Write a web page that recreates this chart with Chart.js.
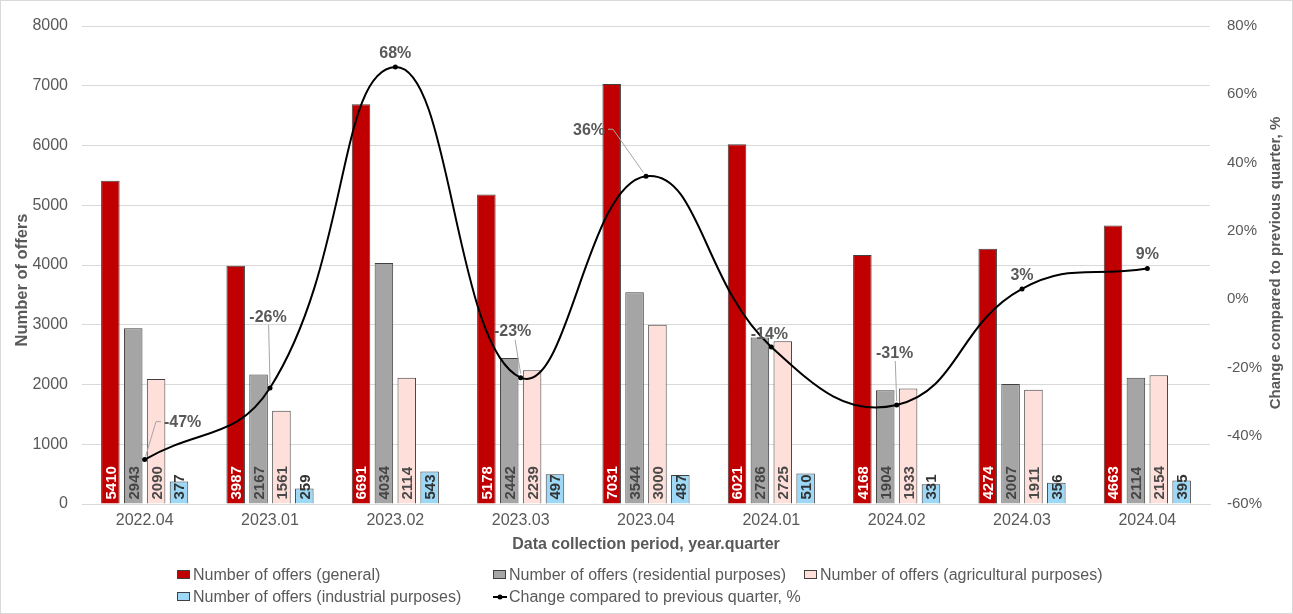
<!DOCTYPE html>
<html>
<head>
<meta charset="utf-8">
<script src="https://cdn.jsdelivr.net/npm/chart.js@4.4.1/dist/chart.umd.min.js"></script>
<style>
  html, body { margin: 0; padding: 0; background: #ffffff; }
  #wrap { width: 1293px; height: 614px; position: relative; }
  canvas { display: block; }
</style>
</head>
<body>
<div id="wrap"><canvas id="offersChart" width="1293" height="614"></canvas></div>
<script>
// Quarterly offer counts by purpose, plus quarter-on-quarter change of the total
const quarters = ['2022.04', '2023.01', '2023.02', '2023.03', '2023.04', '2024.01', '2024.02', '2024.03', '2024.04'];
const offersGeneral      = [5410, 3987, 6691, 5178, 7031, 6021, 4168, 4274, 4663];
const offersResidential  = [2943, 2167, 4034, 2442, 3544, 2786, 1904, 2007, 2114];
const offersAgricultural = [2090, 1561, 2114, 2239, 3000, 2725, 1933, 1911, 2154];
const offersIndustrial   = [377, 259, 543, 497, 487, 510, 331, 356, 395];
const changePct          = [-47, -26, 68, -23, 36, -14, -31, 3, 9];

const seriesNames = [
  'Number of offers (general)',
  'Number of offers (residential purposes)',
  'Number of offers (agricultural purposes)',
  'Number of offers (industrial purposes)',
  'Change compared to previous quarter, %'
];

const FONT = '"Liberation Sans", Arial, Helvetica, sans-serif';
const TEXT_GREY = '#595959';
const GRID_GREY = '#d9d9d9';
const BAR_EDGE = '#404040';

const barColors  = ['#C00000', '#A5A5A5', '#FFDFDA', '#9DD9F7'];
const barLabelColors = ['#ffffff', '#454545', '#4a4a4a', '#333333'];

// Placement of the percentage labels relative to their points (pixels) and whether a leader line is drawn
const pctLabelPlacement = [
  { dx: 38, dy: -38, leader: true },
  { dx: -2, dy: -72, leader: true },
  { dx: 0, dy: -15, leader: false },
  { dx: -8, dy: -47, leader: true },
  { dx: -57, dy: -47, leader: true },
  { dx: -2, dy: -14, leader: false },
  { dx: -2, dy: -53, leader: true },
  { dx: 0, dy: -15, leader: false },
  { dx: 0, dy: -15, leader: false }
];

function barDataset(label, data, idx) {
  return {
    type: 'bar',
    label: label,
    data: data,
    backgroundColor: barColors[idx],
    borderColor: BAR_EDGE,
    borderWidth: 1,
    yAxisID: 'y',
    order: 1,
    categoryPercentage: 0.73,
    barPercentage: 0.81
  };
}

// Rotated value labels at the foot of each bar, percentage labels on the line
const labelPlugin = {
  id: 'valueLabels',
  afterDatasetsDraw(chart) {
    const ctx = chart.ctx;
    ctx.save();
    // bar values
    ctx.font = 'bold 15px ' + FONT;
    ctx.textAlign = 'left';
    ctx.textBaseline = 'alphabetic';
    for (let d = 0; d < 4; d++) {
      const meta = chart.getDatasetMeta(d);
      const values = chart.data.datasets[d].data;
      ctx.fillStyle = barLabelColors[d];
      meta.data.forEach((el, i) => {
        ctx.save();
        ctx.translate(el.x, el.base - 4);
        ctx.rotate(-Math.PI / 2);
        ctx.fillText(String(values[i]), 0, 5.4);
        ctx.restore();
      });
    }
    // percentage labels with leader lines
    const lineMeta = chart.getDatasetMeta(4);
    ctx.font = 'bold 16px ' + FONT;
    lineMeta.data.forEach((pt, i) => {
      const p = pctLabelPlacement[i];
      const text = changePct[i] + '%';
      const w = ctx.measureText(text).width;
      const cx = pt.x + p.dx;
      const cy = pt.y + p.dy;
      if (p.leader) {
        ctx.strokeStyle = '#a6a6a6';
        ctx.lineWidth = 1;
        ctx.beginPath();
        if (Math.abs(p.dx) > w / 2) {
          const side = p.dx > 0 ? -1 : 1;
          const ex = cx + side * (w / 2 + 3);
          const bx = ex + side * 5;
          ctx.moveTo(pt.x + (bx - pt.x) * 0.08, pt.y + (cy - pt.y) * 0.08);
          ctx.lineTo(bx, cy);
          ctx.lineTo(ex, cy);
        } else {
          ctx.moveTo(pt.x, pt.y - 4);
          ctx.lineTo(cx + (pt.x - cx) * 0.3, cy + 9);
        }
        ctx.stroke();
      }
      ctx.fillStyle = TEXT_GREY;
      ctx.textAlign = 'center';
      ctx.fillText(text, cx, cy + 5.7);
    });
    ctx.restore();
  }
};

// Axis titles for the vertical axes, legend grid and outer frame
const decorPlugin = {
  id: 'decor',
  beforeDraw(chart) {
    const ctx = chart.ctx;
    ctx.save();
    ctx.fillStyle = '#ffffff';
    ctx.fillRect(0, 0, chart.width, chart.height);
    ctx.restore();
  },
  afterDraw(chart) {
    const ctx = chart.ctx;
    ctx.save();
    ctx.fillStyle = TEXT_GREY;
    ctx.textAlign = 'center';
    ctx.textBaseline = 'middle';

    ctx.font = 'bold 16.5px ' + FONT;
    ctx.save();
    ctx.translate(22, 280);
    ctx.rotate(-Math.PI / 2);
    ctx.fillText('Number of offers', 0, 0);
    ctx.restore();

    ctx.font = 'bold 15px ' + FONT;
    ctx.save();
    ctx.translate(1276, 263);
    ctx.rotate(-Math.PI / 2);
    ctx.fillText(seriesNames[4], 0, 0);
    ctx.restore();

    // legend
    const cols = [177, 493, 804];
    const rows = [575, 597];
    ctx.font = '16px ' + FONT;
    ctx.textAlign = 'left';
    for (let k = 0; k < 5; k++) {
      const x = cols[k % 3];
      const y = rows[Math.floor(k / 3)];
      if (k < 4) {
        ctx.fillStyle = barColors[k];
        ctx.fillRect(x + 0.5, y - 4.5, 12, 8);
        ctx.strokeStyle = BAR_EDGE;
        ctx.lineWidth = 1;
        ctx.strokeRect(x + 0.5, y - 4.5, 12, 8);
      } else {
        ctx.strokeStyle = '#000000';
        ctx.lineWidth = 2;
        ctx.beginPath();
        ctx.moveTo(x, y);
        ctx.lineTo(x + 14, y);
        ctx.stroke();
        ctx.fillStyle = '#000000';
        ctx.beginPath();
        ctx.arc(x + 7, y, 2.5, 0, Math.PI * 2);
        ctx.fill();
      }
      ctx.fillStyle = TEXT_GREY;
      ctx.fillText(seriesNames[k], x + 16, y + 1);
    }

    // outer frame
    ctx.strokeStyle = GRID_GREY;
    ctx.lineWidth = 1;
    ctx.strokeRect(0.5, 0.5, chart.width - 1, chart.height - 1);
    ctx.restore();
  }
};

new Chart(document.getElementById('offersChart'), {
  data: {
    labels: quarters,
    datasets: [
      barDataset(seriesNames[0], offersGeneral, 0),
      barDataset(seriesNames[1], offersResidential, 1),
      barDataset(seriesNames[2], offersAgricultural, 2),
      barDataset(seriesNames[3], offersIndustrial, 3),
      {
        type: 'line',
        label: seriesNames[4],
        data: changePct,
        yAxisID: 'y2',
        order: 0,
        borderColor: '#000000',
        backgroundColor: '#000000',
        borderWidth: 2,
        tension: 0.45,
        pointRadius: 2.5,
        pointHoverRadius: 2.5,
        pointBackgroundColor: '#000000',
        pointBorderWidth: 0,
        fill: false
      }
    ]
  },
  options: {
    responsive: false,
    animation: false,
    devicePixelRatio: 1,
    layout: { padding: { top: 15, bottom: 60, left: 0, right: 0 } },
    plugins: {
      legend: { display: false },
      tooltip: { enabled: false }
    },
    scales: {
      x: {
        grid: { display: false, drawTicks: false },
        border: { display: true, color: GRID_GREY },
        ticks: { color: TEXT_GREY, font: { family: FONT, size: 16 }, padding: 7, maxRotation: 0 },
        title: {
          display: true,
          text: 'Data collection period, year.quarter',
          color: TEXT_GREY,
          font: { family: FONT, size: 16, weight: 'bold' },
          padding: { top: 0, bottom: 0 }
        },
        afterFit(scale) { scale.height = 50; }
      },
      y: {
        position: 'left',
        min: 0,
        max: 8000,
        ticks: {
          stepSize: 1000,
          color: TEXT_GREY,
          font: { family: FONT, size: 16 },
          padding: 14,
          callback: (v) => String(v)
        },
        grid: { color: GRID_GREY, drawTicks: false },
        border: { display: false },
        afterFit(scale) { scale.width = 82; }
      },
      y2: {
        position: 'right',
        min: -60,
        max: 80,
        ticks: {
          stepSize: 20,
          color: TEXT_GREY,
          font: { family: FONT, size: 15 },
          padding: 17,
          callback: (v) => v + '%'
        },
        grid: { drawOnChartArea: false, drawTicks: false },
        border: { display: false },
        afterFit(scale) { scale.width = 83; }
      }
    }
  },
  plugins: [decorPlugin, labelPlugin]
});
</script>
</body>
</html>
